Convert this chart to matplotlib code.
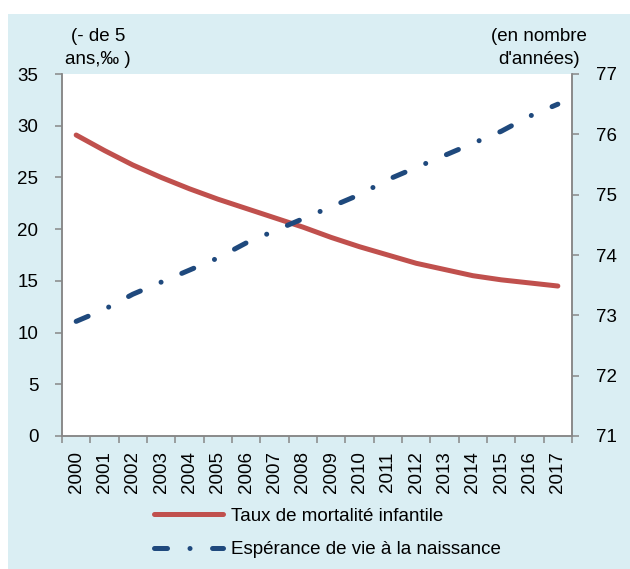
import matplotlib.pyplot as plt
import matplotlib.patches as patches
import numpy as np

plt.rcParams['font.family'] = ['Liberation Sans', 'DejaVu Sans']

years = [str(y) for y in range(2000, 2018)]
mortalite = [29.1, 27.6, 26.2, 25.0, 23.9, 22.9, 22.0, 21.1, 20.2, 19.2,
             18.3, 17.5, 16.7, 16.1, 15.5, 15.1, 14.8, 14.5]
esperance = [72.9, 73.1, 73.35, 73.55, 73.75, 73.95, 74.2, 74.4, 74.6, 74.8,
             75.0, 75.25, 75.45, 75.65, 75.85, 76.05, 76.3, 76.5]

red = '#C0504D'
blue = '#1F497D'
grey = '#878787'
fs = 13.5

fig = plt.figure(figsize=(6.3, 5.69), dpi=100)
fig.patch.set_facecolor('white')
fig.patches.append(patches.Rectangle((8 / 630, 0), 1, 1 - 14 / 569,
                                     transform=fig.transFigure,
                                     facecolor='#DAEEF3', edgecolor='none', zorder=-10))

ax = fig.add_axes([62 / 630, 1 - 436 / 569, 510 / 630, 362 / 569])
ax2 = ax.twinx()
ax.set_facecolor('white')

x = np.arange(len(years))
l1, = ax.plot(x, mortalite, color=red, lw=3.6, solid_capstyle='round',
              solid_joinstyle='round', label='Taux de mortalité infantile')
l2, = ax2.plot(x, esperance, color=blue, lw=3.6, dash_capstyle='round',
               linestyle=(0, (2.6, 4.5, 0.01, 4.5)),
               label='Espérance de vie à la naissance')

ax.set_xlim(-0.5, len(years) - 0.5)
ax.set_ylim(0, 35)
ax2.set_ylim(71, 77)
ax.set_yticks(range(0, 36, 5))
ax2.set_yticks(range(71, 78))

ax.set_xticks(np.arange(-0.5, len(years)), labels=[])
ax.set_xticks(x, labels=years, minor=True)
ax.tick_params(axis='x', which='major', length=5, width=1.1, color=grey, direction='out')
ax.tick_params(axis='x', which='minor', length=0, labelsize=fs, labelrotation=90, pad=11)
ax.tick_params(axis='y', length=5, width=1.1, color=grey, labelsize=fs, pad=12)
ax2.tick_params(axis='y', length=5, width=1.1, color=grey, labelsize=fs, pad=12)

for a in (ax, ax2):
    for s in a.spines.values():
        s.set_color(grey)
        s.set_linewidth(1.1)
    a.spines['top'].set_visible(False)

fig.text(98 / 630, 1 - 48 / 569, '(- de 5\nans,‰ )', ha='center', va='center',
         fontsize=fs, linespacing=1.5)
fig.text(539 / 630, 1 - 48 / 569, "(en nombre\nd'années)", ha='center', va='center',
         fontsize=fs, linespacing=1.5)

fig.legend(handles=[l1, l2], loc='center left', bbox_to_anchor=(137 / 630, 1 - 533 / 569),
           frameon=False, fontsize=fs, handlelength=3.7, handletextpad=0.4,
           labelspacing=0.85)

fig.savefig('out.png', dpi=100)
